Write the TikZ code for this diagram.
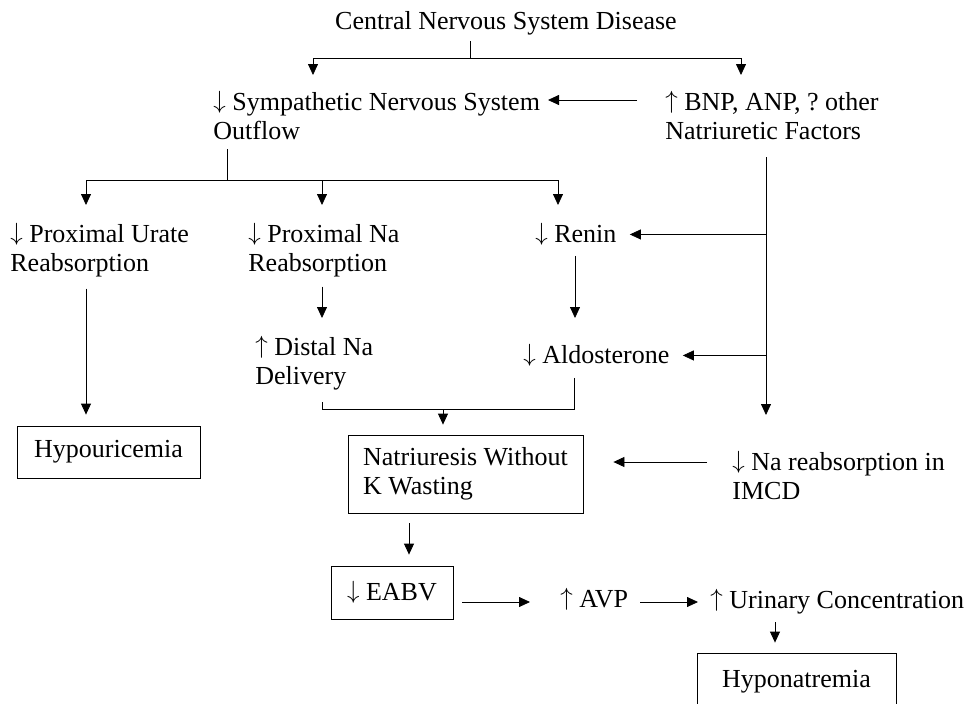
\documentclass[tikz,border=0pt]{standalone}
\usepackage{fontspec}
\setmainfont{Liberation Serif}
\usetikzlibrary{arrows.meta, calc, positioning}

\newcommand{\diagfont}{\fontsize{26}{29.5}\selectfont}
\newcommand{\dn}{\raisebox{1.5pt}{$\downarrow$}}
\newcommand{\upa}{\raisebox{1.5pt}{$\uparrow$}}
\frenchspacing

\begin{document}
\begin{tikzpicture}[x=1pt, y=-1pt, >={Triangle[length=11pt,width=10pt]}, line width=0.8pt,
    txt/.style={anchor=north west, inner sep=0pt, align=left, font=\diagfont},
    boxed/.style={draw, inner sep=0pt, align=left, font=\diagfont}]

            \useasboundingbox (0,0) rectangle (970,704);
            \clip (0,0) rectangle (970,704);

            \node[txt, anchor=north] (cns) at (506,11) {Central Nervous System Disease};
            \node[txt] (sns) at (213,91) {\dn{} Sympathetic Nervous System\\Outflow};
            \node[txt] (bnp) at (665,91) {\upa{} BNP, ANP, ? other\\Natriuretic Factors};

            \node[txt] (urate) at (10,223) {\dn{} Proximal Urate\\Reabsorption};
            \node[txt] (proxna) at (248,223) {\dn{} Proximal Na\\Reabsorption};
            \node[txt] (renin) at (535,223) {\dn{} Renin};

            \node[txt] (distal) at (255,336) {\upa{} Distal Na\\Delivery};
            \node[txt] (aldo) at (523,344) {\dn{} Aldosterone};
            \node[txt] (imcd) at (732,451) {\dn{} Na reabsorption in\\IMCD};

            \node[boxed, minimum width=183pt, minimum height=52pt] (hypouric) at (108.5,452) {Hypouricemia};
            \node[boxed, minimum width=235pt, minimum height=78pt] (natri) at (465.5,474) {Natriuresis Without\\K Wasting};
            \node[boxed, minimum width=122pt, minimum height=53pt] (eabv) at (392,592.5) {\dn{} EABV};

            \node[txt] (avp) at (560,588) {\upa{} AVP};
            \node[txt] (urine) at (710,589) {\upa{} Urinary Concentration};
            \node[boxed, minimum width=199pt, minimum height=58pt] (hyponat) at (796.5,682) {Hyponatremia};

            % Connections: disease to first level
            \coordinate (forkA) at (470,58);
            \draw ($(cns.south -| forkA)+(0,6)$) -- (forkA);
            \draw[->] (forkA) -| ($(sns.north west)+(100,-16)$);
            \draw[->] (forkA) -| ($(bnp.north west)+(76,-16)$);
            \draw[->] ($(bnp.north west)+(-28,9)$) -- ($(sns.north west)+(335,9)$);

            % Connections: outflow to kidney effects
            \coordinate (forkB) at (227,180);
            \draw ($(sns.south -| forkB)+(0,9)$) -- (forkB);
            \draw[->] (forkB) -| ($(urate.north west)+(76,-18)$);
            \draw[->] (forkB) -| ($(proxna.north west)+(74,-18)$);
            \draw[->] (forkB) -| ($(renin.north west)+(23,-18)$);

            % Connections: natriuretic factors
            \coordinate (trunk) at ($(bnp.south west)+(101,17)$);
            \draw[->] (trunk) -- ($(trunk |- imcd.north)+(0,-36)$);
            \draw[->] (renin.east -| trunk) -- ($(renin.east)+(13,0)$);
            \draw[->] (aldo.east -| trunk) -- ($(aldo.east)+(13,0)$);

            % Connections: second level
            \coordinate (us) at ($(urate.south west)+(76,11)$);
            \draw[->] (us) -- ($(us |- hypouric.north)+(0,-11)$);
            \coordinate (ps) at ($(proxna.south west)+(74,9)$);
            \draw[->] (ps) -- ($(ps |- distal.north)+(0,-18)$);
            \coordinate (rs) at ($(renin.south west)+(40,10)$);
            \draw[->] (rs) -- ($(rs |- aldo.north)+(0,-26)$);

            % Connections: into natriuresis
            \coordinate (as) at ($(aldo.south west)+(51,11)$);
            \coordinate (ds) at ($(distal.south west)+(67,11)$);
            \coordinate (mg) at ($(ds)+(0,8)$);
            \draw (as) |- (mg) -- (ds);
            \draw[->] ($(natri.north |- mg)+(-22.5,0)$) -- ($(natri.north)+(-22.5,-10)$);
            \coordinate (im) at ($(imcd.north west)+(-25,11)$);
            \draw[->] (im) -- ($(im -| natri.east)+(30,0)$);

            % Connections: volume and concentration
            \draw[->] ($(natri.south)+(-56.5,10)$) -- ($(eabv.north)+(17,-11)$);
            \coordinate (e1) at ($(eabv.east)+(9,9.5)$);
            \draw[->] (e1) -- ($(e1 -| avp.west)+(-30,0)$);
            \draw[->] ($(e1 -| avp.east)+(12,0)$) -- ($(e1 -| urine.west)+(-12,0)$);
            \coordinate (uc) at ($(urine.south west)+(65,8)$);
            \draw[->] (uc) -- ($(uc |- hyponat.north)+(0,-10)$);

        \end{tikzpicture}
\end{document}
